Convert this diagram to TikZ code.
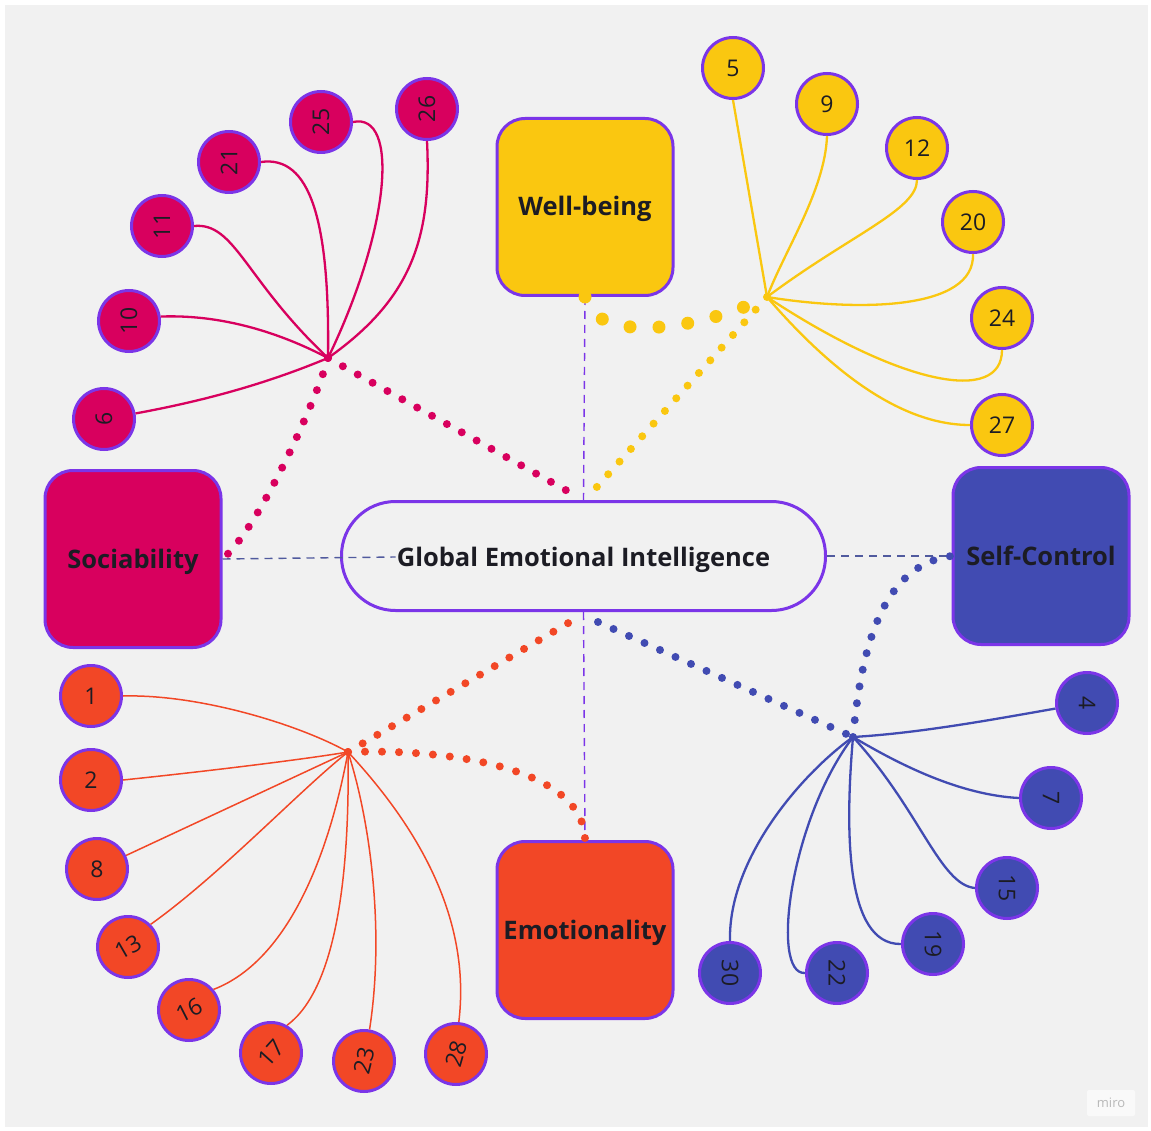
\documentclass[tikz,border=0pt]{standalone}
\usepackage{graphicx}
\usepackage{fontspec}
\setmainfont{Open Sans}
\definecolor{bgG}{HTML}{F1F1F1}
\definecolor{vio}{HTML}{7B35E8}
\definecolor{ink}{HTML}{1C1C24}
\definecolor{crim}{HTML}{D8005E}
\definecolor{yel}{HTML}{FAC710}
\definecolor{ora}{HTML}{F24726}
\definecolor{blu}{HTML}{414BB2}
\definecolor{slate}{HTML}{505A9E}
\tikzset{
  bigbox/.style={draw=vio, line width=3pt, rounded corners=28pt, minimum width=176pt,
    minimum height=177pt, inner sep=0pt, text=ink, text height=20pt, text depth=2pt,
    font=\bfseries\fontsize{25.5}{30}\selectfont},
  num/.style={circle, draw=vio, line width=3pt, minimum size=61pt, inner sep=0pt,
    text=ink, font=\fontsize{23}{26}\selectfont},
  dotline/.style={line width=8pt, line cap=round, dash pattern=on 0pt off 17pt},
  bigdots/.style={line width=13pt, line cap=round, dash pattern=on 0pt off 29pt},
  link/.style={line width=2.3pt},
  thinlink/.style={line width=1.5pt},
  vdash/.style={draw=vio, line width=1.4pt, dash pattern=on 8pt off 6pt},
  hdash/.style={draw=slate, line width=1.4pt, dash pattern=on 8pt off 6pt},
}
\begin{document}
\begin{tikzpicture}[x=1pt,y=-1pt]
\useasboundingbox (0,0) rectangle (1151,1131);
\fill[white] (0,0) rectangle (1151,1131);
\fill[bgG] (5,5) rectangle (1148,1127);

% hubs and free ends
\coordinate (hS) at (328,358);
\coordinate (hW) at (767,297);
\coordinate (hE) at (348,752);
\coordinate (hC) at (853,737);
\coordinate (gNL) at (571,493);
\coordinate (gNR) at (595,489);
\coordinate (gSL) at (570,622);
\coordinate (gSR) at (598,622);

% main nodes
\node[draw=vio, line width=3pt, rounded corners=54pt, minimum width=484pt, minimum height=109pt] (gei) at (583.5,556) {};
\node[text=ink, font=\bfseries\fontsize{25.5}{30}\selectfont, inner sep=1pt, text height=20pt, text depth=2pt] (geit) at (583.5,557) {Global Emotional Intelligence};
\node[bigbox, fill=yel] (wb) at (585,207) {Well-being};
\node[bigbox, fill=crim] (soc) at (133,559) {Sociability};
\node[bigbox, fill=blu] (sc) at (1041,556) {Self-Control};
\node[bigbox, fill=ora] (emo) at (585,930) {Emotionality};

% dashed connectors
\draw[vdash] (wb.south) -- (gei.north);
\draw[vdash] (gei.south) -- (emo.north);
\draw[hdash] (soc.east) -- (geit.west);
\draw[hdash] (gei.east) -- (sc.west);

% crimson circles
\foreach \n/\x/\y in {6/104/419,10/129/321,11/162/226,21/229/162,25/321/122,26/427/109}
  \node[num, fill=crim] (c\n) at (\x,\y) {\rotatebox{90}{\n}};
% yellow circles
\foreach \n/\x/\y in {5/733/68,9/827/104,12/917/148,20/973/222,24/1002/318,27/1002/425}
  \node[num, fill=yel] (c\n) at (\x,\y) {\n};
% orange circles
\foreach \n/\x/\y/\r in {1/91/696/0,2/91/780/0,8/97/869/0,13/128/947/30,16/189/1010/27,17/271/1053/48,23/364/1061/76,28/456/1054/74}
  \node[num, fill=ora] (c\n) at (\x,\y) {\rotatebox{\r}{\n}};
% blue circles
\foreach \n/\x/\y in {4/1087/703,7/1051/798,15/1007/888,19/933/944,22/837/973,30/730/973}
  \node[num, fill=blu] (c\n) at (\x,\y) {\rotatebox{-90}{\n}};

% crimson links
\begin{scope}[crim, link]
\draw (c6.10) .. controls (220,398) and (280,378) .. (hS);
\draw (c10.8) .. controls (230,314) and (290,338) .. (hS);
\draw (c11.east) .. controls (235,222) and (245,280) .. (hS);
\draw (c21.east) .. controls (310,155) and (330,220) .. (hS);
\draw (c25.east) .. controls (400,112) and (390,230) .. (hS);
\draw (c26.south) .. controls (432,240) and (410,300) .. (hS);
\end{scope}
% yellow links
\begin{scope}[yel, link]
\draw (c5.south) -- (hW);
\draw (c9.south) .. controls (825,190) and (785,250) .. (hW);
\draw (c12.south) .. controls (917,210) and (850,235) .. (hW);
\draw (c20.south) .. controls (975,310) and (860,312) .. (hW);
\draw (c24.south) .. controls (1002,405) and (900,385) .. (hW);
\draw (c27.west) .. controls (900,425) and (830,370) .. (hW);
\end{scope}
% orange links
\begin{scope}[ora, thinlink]
\draw (c1.east) .. controls (200,694) and (300,725) .. (hE);
\draw (c2.east) .. controls (200,772) and (300,760) .. (hE);
\draw (c8.25) -- (hE);
\draw (c13.45) .. controls (220,875) and (300,790) .. (hE);
\draw (c16.40) .. controls (290,960) and (330,850) .. (hE);
\draw (c17.60) .. controls (335,990) and (350,880) .. (hE);
\draw (c23.80) .. controls (385,930) and (370,820) .. (hE);
\draw (c28.85) .. controls (470,930) and (430,840) .. (hE);
\end{scope}
% blue links
\begin{scope}[blu, link]
\draw (c4.190) .. controls (990,720) and (920,733) .. (hC);
\draw (c7.west) .. controls (960,795) and (900,765) .. (hC);
\draw (c15.west) .. controls (940,885) and (920,810) .. (hC);
\draw (c19.west) .. controls (845,945) and (845,830) .. (hC);
\draw (c22.west) .. controls (770,975) and (790,820) .. (hC);
\draw (c30.north) .. controls (728,860) and (800,775) .. (hC);
\end{scope}

% dotted connectors
\draw[crim, dotline] (hS) .. controls (320,390) and (262,525) .. (soc.east);
\draw[crim, dotline] (hS) -- (gNL);
\draw[yel, dotline] (hW) -- (gNR);
\draw[yel, bigdots] (wb.south) .. controls (595,345) and (700,330) .. (hW);
\draw[ora, dotline] (hE) -- (gSL);
\draw[ora, dotline] (hE) .. controls (470,748) and (585,775) .. (emo.north);
\draw[blu, dotline] (gSR) -- (hC);
\draw[blu, dotline] (hC) .. controls (862,640) and (885,565) .. (sc.west);

% logo
\node[fill=white!60!bgG, rounded corners=2pt, text=black!28, font=\fontsize{13}{14}\selectfont, minimum width=48pt, minimum height=26pt] (logo) at (1111,1103) {miro};
\end{tikzpicture}
\end{document}
